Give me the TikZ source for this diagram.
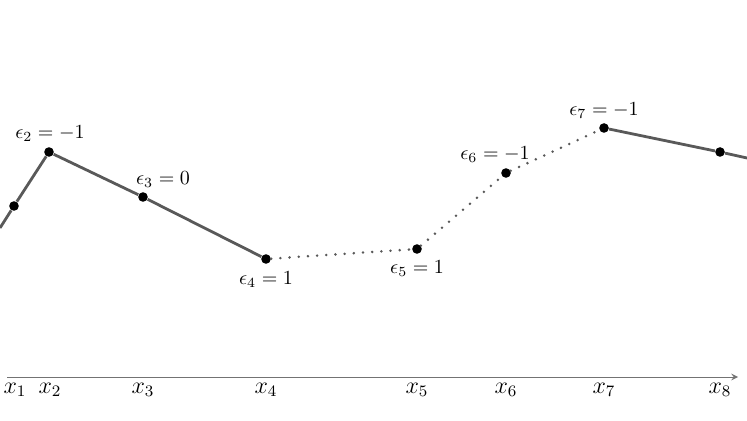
\documentclass[tikz,border=0pt]{standalone}
\usepackage{amsmath}
\usepackage{amssymb}
\usepackage{tikz}
\usetikzlibrary{positioning,arrows}

\begin{document}
\begin{tikzpicture}[x=0.5pt,y=-0.5pt,
    dot/.style={circle, fill=black, inner sep=0pt, minimum size=4.8pt},
    seg/.style={line width=1.4pt, draw=black!65},
    gap/.style={line width=1.4pt, draw=black!65, line cap=round, dash pattern=on 0pt off 4.6pt},
    axlab/.style={font=\large, inner sep=1pt}]
   \useasboundingbox (0,0) rectangle (747,421);
   % sample points
   \coordinate (s0) at (0,228);
   \node[dot] (p_1) at (14,206) {};
   \node[dot] (p_2) at (49,152) {};
   \node[dot] (p_3) at (143,197) {};
   \node[dot] (p_4) at (266,259) {};
   \node[dot] (p_5) at (417,249) {};
   \node[dot] (p_6) at (506,173) {};
   \node[dot] (p_7) at (604,128) {};
   \node[dot] (p_8) at (720,152) {};
   \coordinate (s9) at (747,158);
   % signs
   \node (e_2) at (50,134) {$\epsilon_2 = -1$};
   \node (e_3) at (163,180) {$\epsilon_3 = 0$};
   \node (e_4) at (266,280) {$\epsilon_4 = 1$};
   \node (e_5) at (417,269) {$\epsilon_5 = 1$};
   \node (e_6) at (495,155) {$\epsilon_6 = -1$};
   \node (e_7) at (604,111) {$\epsilon_7 = -1$};
   % curve
   \draw[seg] (s0) -- (p_1) -- (p_2) -- (p_3) -- (p_4);
   \draw[gap] (p_4) -- (p_5) -- (p_6) -- (p_7);
   \draw[seg] (p_7) -- (p_8) -- (s9);
   % axis
   \coordinate (a_l) at (7,377);
   \coordinate (a_r) at (738,377);
   \draw[->, >=stealth, line width=0.5pt, black!55] (a_l) -- (a_r);
   \node[axlab] (x_1) at (15,390) {$x_1$};
   \node[axlab] (x_2) at (50,390) {$x_2$};
   \node[axlab] (x_3) at (143,390) {$x_3$};
   \node[axlab] (x_4) at (266,390) {$x_4$};
   \node[axlab] (x_5) at (417,390) {$x_5$};
   \node[axlab] (x_6) at (506,390) {$x_6$};
   \node[axlab] (x_7) at (604,390) {$x_7$};
   \node[axlab] (x_8) at (720,390) {$x_8$};
\end{tikzpicture}
\end{document}
